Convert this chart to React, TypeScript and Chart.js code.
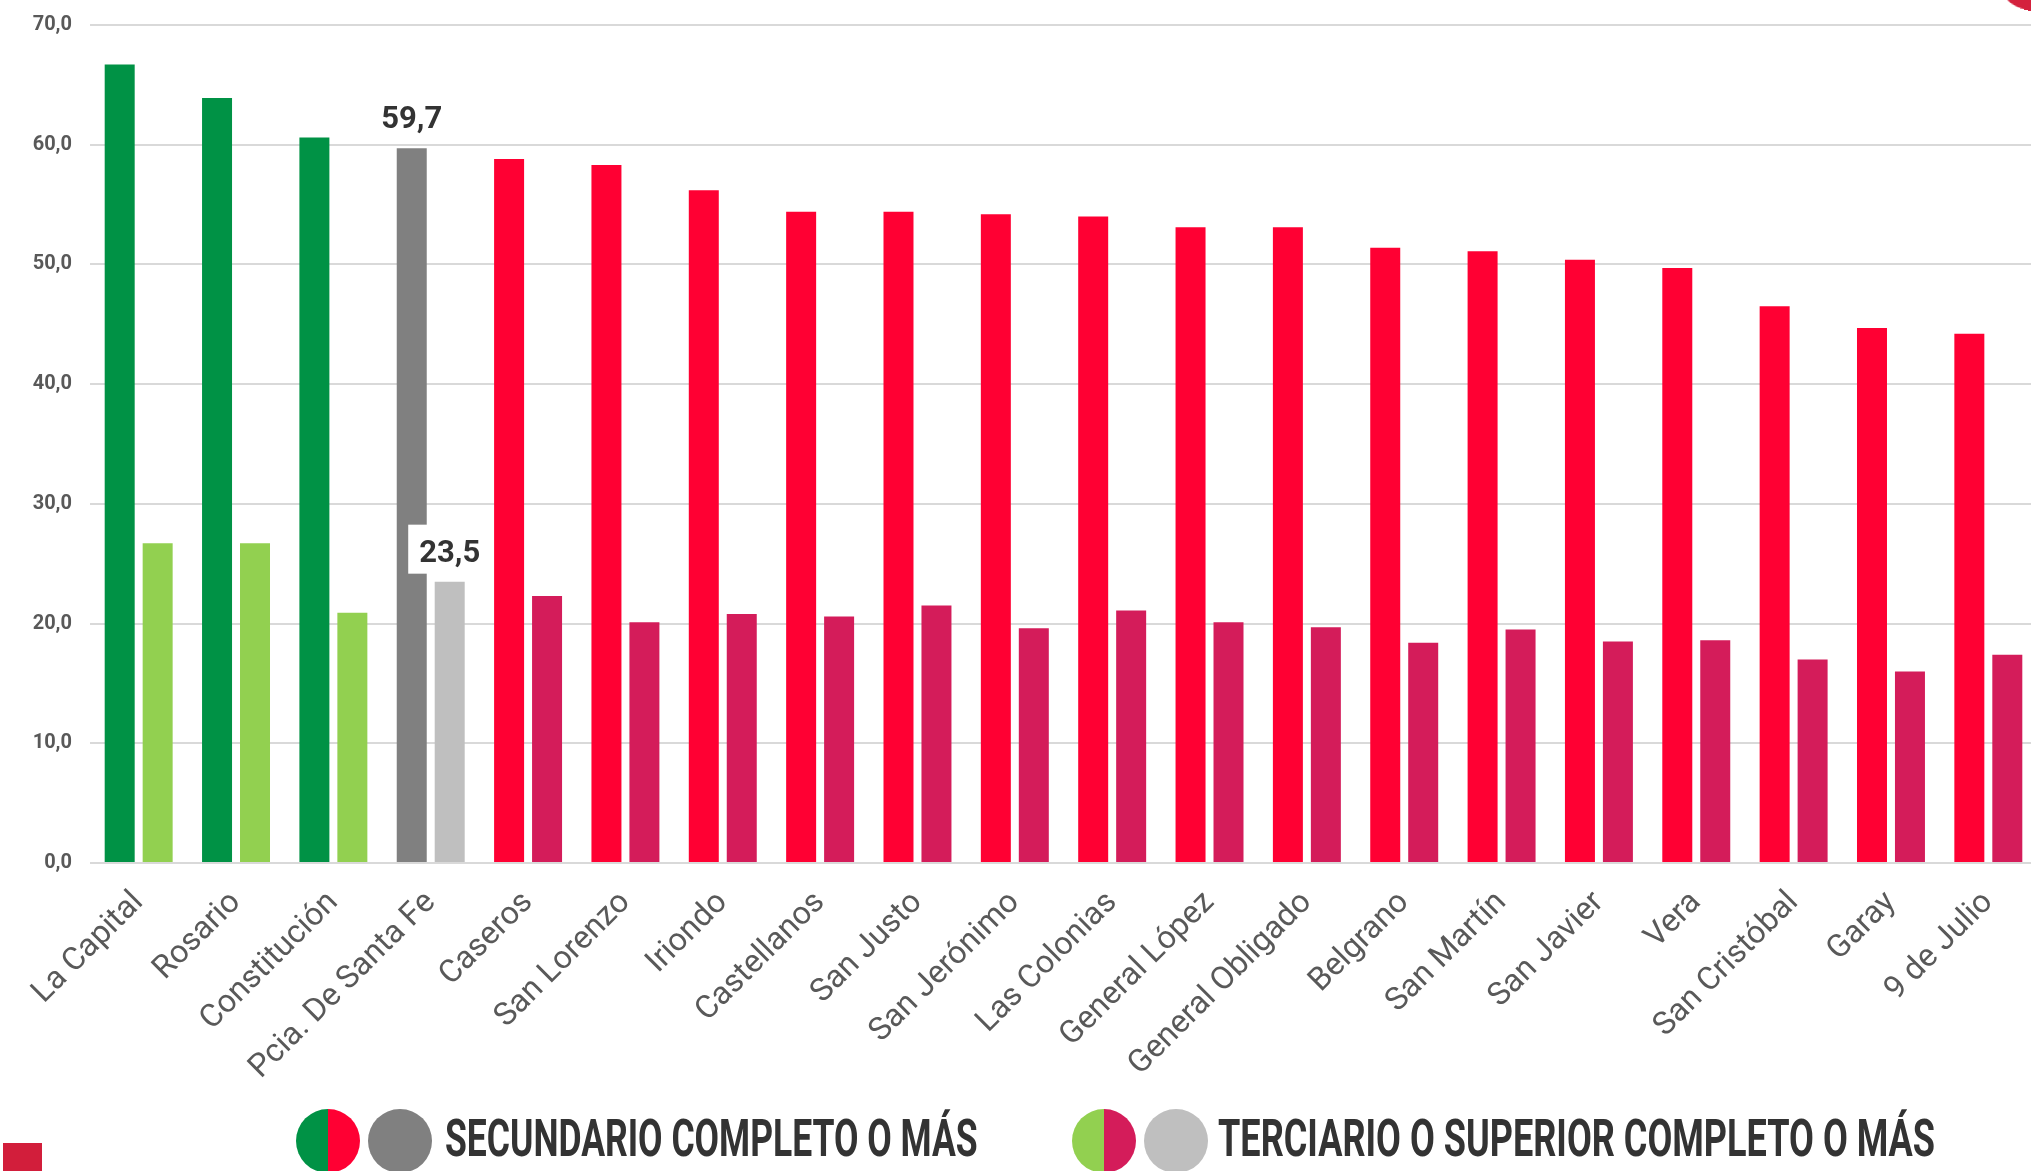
import React, { useEffect, useLayoutEffect, useRef } from 'react';
import { Chart, registerables } from 'chart.js';

Chart.register(...registerables);

const categories = [
  'La Capital', 'Rosario', 'Constitución', 'Pcia. De Santa Fe', 'Caseros', 'San Lorenzo',
  'Iriondo', 'Castellanos', 'San Justo', 'San Jerónimo', 'Las Colonias', 'General López',
  'General Obligado', 'Belgrano', 'San Martín', 'San Javier', 'Vera', 'San Cristóbal', 'Garay', '9 de Julio',
];

const secundario = [66.7, 63.9, 60.6, 59.7, 58.8, 58.3, 56.2, 54.4, 54.4, 54.2, 54.0, 53.1, 53.1, 51.4, 51.1, 50.4, 49.7, 46.5, 44.7, 44.2];
const terciario = [26.7, 26.7, 20.9, 23.5, 22.3, 20.1, 20.8, 20.6, 21.5, 19.6, 21.1, 20.1, 19.7, 18.4, 19.5, 18.5, 18.6, 17.0, 16.0, 17.4];

const yTickLabels = ['0,0', '10,0', '20,0', '30,0', '40,0', '50,0', '60,0', '70,0'];

const legendLabels = ['SECUNDARIO COMPLETO O MÁS', 'TERCIARIO O SUPERIOR COMPLETO O MÁS'];

const highlightIndex = 3;

const secColors = categories.map((_, i) => (i < 3 ? '#009245' : i === 3 ? '#808080' : '#FF0033'));
const terColors = categories.map((_, i) => (i < 3 ? '#92D050' : i === 3 ? '#BFBFBF' : '#D41C5A'));

const valueLabelPlugin = {
  id: 'valueLabels',
  afterDatasetsDraw(chart: any) {
    const ctx = chart.ctx;
    chart.data.datasets.forEach((ds: any, di: number) => {
      const el = chart.getDatasetMeta(di).data[highlightIndex];
      const v = ds.data[highlightIndex] as number;
      const text = v.toFixed(1).replace('.', ',');
      ctx.save();
      ctx.font = 'bold 31px Roboto';
      const w = ctx.measureText(text).width;
      const baseline = el.y - 20;
      ctx.fillStyle = '#ffffff';
      ctx.fillRect(el.x - w / 2 - 11, baseline - 37, w + 22, 49);
      ctx.fillStyle = '#333333';
      ctx.textAlign = 'center';
      ctx.textBaseline = 'alphabetic';
      ctx.fillText(text, el.x, baseline);
      ctx.restore();
    });
  },
};

function LegendText({ text, left, target }: { text: string; left: number; target: number }) {
  const ref = useRef<HTMLSpanElement>(null);
  useLayoutEffect(() => {
    const el = ref.current;
    if (!el) return;
    el.style.transform = 'none';
    const w = el.offsetWidth;
    if (w > 0) el.style.transform = `scaleX(${target / w})`;
  }, [text, target]);
  return (
    <span
      ref={ref}
      style={{
        position: 'absolute',
        left,
        top: 1113,
        fontFamily: 'Roboto, sans-serif',
        fontWeight: 700,
        fontSize: 51,
        lineHeight: '51px',
        color: '#333333',
        whiteSpace: 'nowrap',
        transformOrigin: 'left center',
        display: 'inline-block',
      }}
    >
      {text}
    </span>
  );
}

function Dot({ left, bg }: { left: number; bg: string }) {
  return (
    <div
      style={{
        position: 'absolute',
        left,
        top: 1109,
        width: 64,
        height: 64,
        borderRadius: '50%',
        background: bg,
      }}
    />
  );
}

export default function App() {
  const canvasRef = useRef<HTMLCanvasElement>(null);

  useEffect(() => {
    const canvas = canvasRef.current;
    if (!canvas) return;
    const chart = new Chart(canvas, {
      type: 'bar',
      data: {
        labels: categories,
        datasets: [
          { label: legendLabels[0], data: secundario, backgroundColor: secColors, borderWidth: 0 },
          { label: legendLabels[1], data: terciario, backgroundColor: terColors, borderWidth: 0 },
        ],
      },
      options: {
        responsive: false,
        animation: false,
        devicePixelRatio: 1,
        categoryPercentage: 0.78,
        barPercentage: 0.79,
        layout: { padding: { top: 25, right: 0, bottom: 0, left: 0 } },
        plugins: {
          legend: { display: false },
          tooltip: { enabled: false },
        },
        scales: {
          x: {
            offset: true,
            grid: { display: false },
            border: { display: false },
            ticks: {
              autoSkip: false,
              minRotation: 45,
              maxRotation: 45,
              padding: 13,
              color: '#595959',
              font: { family: 'Roboto', size: 32 },
            },
            afterFit: (scale: any) => {
              scale.height = 308;
            },
          },
          y: {
            min: 0,
            max: 70,
            ticks: {
              stepSize: 10,
              padding: 5,
              color: '#595959',
              font: { family: 'Roboto', size: 20, weight: 'bold' },
              callback: (_v: any, i: number) => yTickLabels[i],
            },
            grid: { color: '#d9d9d9', lineWidth: 2, drawTicks: true, tickLength: 13, tickColor: 'rgba(0,0,0,0)' },
            border: { display: false },
            afterFit: (scale: any) => {
              scale.width = 90;
            },
          },
        },
      } as any,
      plugins: [valueLabelPlugin],
    });
    return () => chart.destroy();
  }, []);

  return (
    <div
      style={{
        position: 'fixed',
        left: 0,
        top: 0,
        width: 2031,
        height: 1171,
        overflow: 'hidden',
        background: '#ffffff',
      }}
    >
      <canvas ref={canvasRef} width={2037} height={1171} style={{ position: 'absolute', left: 0, top: 0 }} />
      <div
        style={{
          position: 'absolute',
          left: 1986,
          top: -40,
          width: 140,
          height: 40,
          background: '#D4213D',
          transformOrigin: 'bottom left',
          transform: 'rotate(14deg)',
          borderBottomLeftRadius: 60,
        }}
      />
      <div style={{ position: 'absolute', left: 3, top: 1143, width: 39, height: 28, background: '#D21E3B' }} />
      <Dot left={296} bg="linear-gradient(to right, #009245 50%, #FF0033 50%)" />
      <Dot left={368} bg="#808080" />
      <LegendText text={legendLabels[0]} left={445} target={533} />
      <Dot left={1072} bg="linear-gradient(to right, #92D050 50%, #D41C5A 50%)" />
      <Dot left={1144} bg="#BFBFBF" />
      <LegendText text={legendLabels[1]} left={1218} target={717} />
    </div>
  );
}
